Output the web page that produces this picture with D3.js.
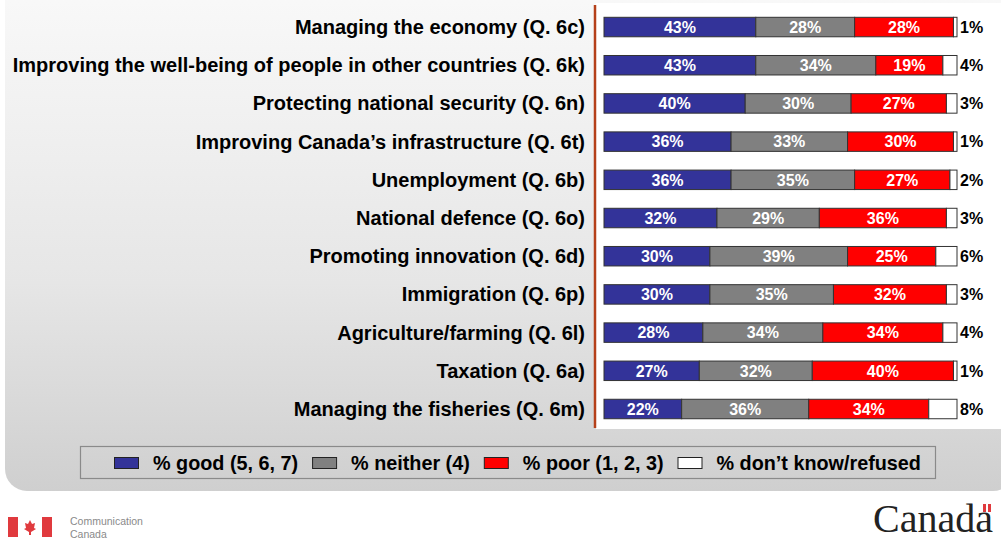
<!DOCTYPE html>
<html>
<head>
<meta charset="utf-8">
<script src="https://cdn.jsdelivr.net/npm/d3@7/dist/d3.min.js"></script>
<style>
  html, body { margin: 0; padding: 0; background: #ffffff; }
  svg { display: block; font-family: "Liberation Sans", Arial, sans-serif; }
</style>
</head>
<body>
<svg id="chart" width="1001" height="542"></svg>
<script>
const categories = [
  "Managing the economy (Q. 6c)",
  "Improving the well-being of people in other countries (Q. 6k)",
  "Protecting national security (Q. 6n)",
  "Improving Canada\u2019s infrastructure (Q. 6t)",
  "Unemployment (Q. 6b)",
  "National defence (Q. 6o)",
  "Promoting innovation (Q. 6d)",
  "Immigration (Q. 6p)",
  "Agriculture/farming (Q. 6l)",
  "Taxation (Q. 6a)",
  "Managing the fisheries (Q. 6m)"
];
const good    = [43, 43, 40, 36, 36, 32, 30, 30, 28, 27, 22];
const neither = [28, 34, 30, 33, 35, 29, 39, 35, 34, 32, 36];
const poor    = [28, 19, 27, 30, 27, 36, 25, 32, 34, 40, 34];
const dontKnow = [1, 4, 3, 1, 2, 3, 6, 3, 4, 1, 8];
const seriesNames = ["% good (5, 6, 7)", "% neither (4)", "% poor (1, 2, 3)", "% don\u2019t know/refused"];
const seriesColors = ["#333399", "#808080", "#ff0000", "#ffffff"];

const svg = d3.select("#chart");
const W = 1001, H = 542;

// background gradient panel
const defs = svg.append("defs");
const grad = defs.append("linearGradient").attr("id", "bg").attr("x1", 0).attr("y1", 0).attr("x2", 0).attr("y2", 1);
grad.append("stop").attr("offset", "0%").attr("stop-color", "#fafafa");
grad.append("stop").attr("offset", "60%").attr("stop-color", "#e6e6e6");
grad.append("stop").attr("offset", "100%").attr("stop-color", "#cfcfcf");

svg.append("rect").attr("x", 0).attr("y", 0).attr("width", W).attr("height", H).attr("fill", "#ffffff");
svg.append("rect").attr("x", 5).attr("y", -30).attr("width", 1010).attr("height", 521)
  .attr("rx", 22).attr("fill", "url(#bg)");

// white chart panel
svg.append("rect").attr("x", 596).attr("y", 3).attr("width", 410).attr("height", 426).attr("fill", "#ffffff");
svg.append("line").attr("x1", 595).attr("x2", 595).attr("y1", 5).attr("y2", 428)
  .attr("stroke", "#b5401a").attr("stroke-width", 2.5);

const x = d3.scaleLinear().domain([0, 100]).range([604, 957]);
const y = d3.scaleBand().domain(categories).range([7.94, 428.1]).paddingInner(0.49).paddingOuter(0.245);

const rows = categories.map((c, i) => {
  const vals = [good[i], neither[i], poor[i], dontKnow[i]];
  let acc = 0;
  const segs = vals.map((v, k) => { const s = {k, v, x0: acc, x1: acc + v, cat: c}; acc += v; return s; });
  return {cat: c, segs, dk: dontKnow[i]};
});

// category labels
svg.append("g").selectAll("text").data(categories).join("text")
  .attr("x", 585).attr("y", d => y(d) + y.bandwidth() / 2)
  .attr("dy", "0.35em").attr("text-anchor", "end")
  .attr("font-size", 20).attr("font-weight", "bold").attr("fill", "#000")
  .text(d => d);

const rowG = svg.append("g").selectAll("g").data(rows).join("g");
rowG.selectAll("rect").data(d => d.segs).join("rect")
  .attr("x", d => x(d.x0)).attr("width", d => x(d.x1) - x(d.x0))
  .attr("y", d => y(d.cat)).attr("height", y.bandwidth())
  .attr("fill", d => seriesColors[d.k]).attr("stroke", "#333333").attr("stroke-width", 1);

rowG.selectAll("text.in").data(d => d.segs.filter(s => s.k < 3)).join("text")
  .attr("class", "in")
  .attr("x", d => (x(d.x0) + x(d.x1)) / 2).attr("y", d => y(d.cat) + y.bandwidth() / 2)
  .attr("dy", "0.36em").attr("text-anchor", "middle")
  .attr("font-size", 16).attr("font-weight", "bold").attr("fill", "#ffffff")
  .text(d => d.v + "%");

rowG.append("text")
  .attr("x", x(100) + 3).attr("y", d => y(d.cat) + y.bandwidth() / 2)
  .attr("dy", "0.36em").attr("font-size", 16).attr("font-weight", "bold").attr("fill", "#000")
  .text(d => d.dk + "%");

// legend
svg.append("rect").attr("x", 80.5).attr("y", 446.5).attr("width", 855).attr("height", 32)
  .attr("fill", "none").attr("stroke", "#8a8a8a").attr("stroke-width", 1.2);
const lg = svg.append("g");
let lx = 114;
seriesNames.forEach((name, k) => {
  lg.append("rect").attr("x", lx + 0.5).attr("y", 457.5).attr("width", 24).attr("height", 11)
    .attr("fill", seriesColors[k]).attr("stroke", "#222").attr("stroke-width", 1);
  const t = lg.append("text").attr("x", lx + 39).attr("y", 463).attr("dy", "0.36em")
    .attr("font-size", 19.8).attr("font-weight", "bold").attr("fill", "#000").text(name);
  lx = lx + 39 + t.node().getComputedTextLength() + 14;
});

// footer: FIP left
const fip = svg.append("g");
fip.append("rect").attr("x", 8).attr("y", 517).attr("width", 10).attr("height", 20).attr("fill", "#e03a3e");
fip.append("rect").attr("x", 42).attr("y", 517).attr("width", 10).attr("height", 20).attr("fill", "#e03a3e");
fip.append("path").attr("d", "M30,520 L32,524 L35,523 L34,528 L36,529 L31,532 L31,535 L29,535 L29,532 L24,529 L26,528 L25,523 L28,524 Z")
  .attr("fill", "#e03a3e");
fip.append("text").attr("x", 70).attr("y", 525).attr("font-size", 10.5).attr("fill", "#8a8a8a").text("Communication");
fip.append("text").attr("x", 70).attr("y", 538).attr("font-size", 10.5).attr("fill", "#8a8a8a").text("Canada");

// Canada wordmark
svg.append("text").attr("x", 873).attr("y", 532).attr("font-family", "'Liberation Serif', 'Times New Roman', serif")
  .attr("font-size", 40).attr("fill", "#222").text("Canada");
svg.append("rect").attr("x", 983).attr("y", 504).attr("width", 3).attr("height", 8).attr("fill", "#e03a3e");
svg.append("rect").attr("x", 988).attr("y", 504).attr("width", 3).attr("height", 8).attr("fill", "#e03a3e");
</script>
</body>
</html>
